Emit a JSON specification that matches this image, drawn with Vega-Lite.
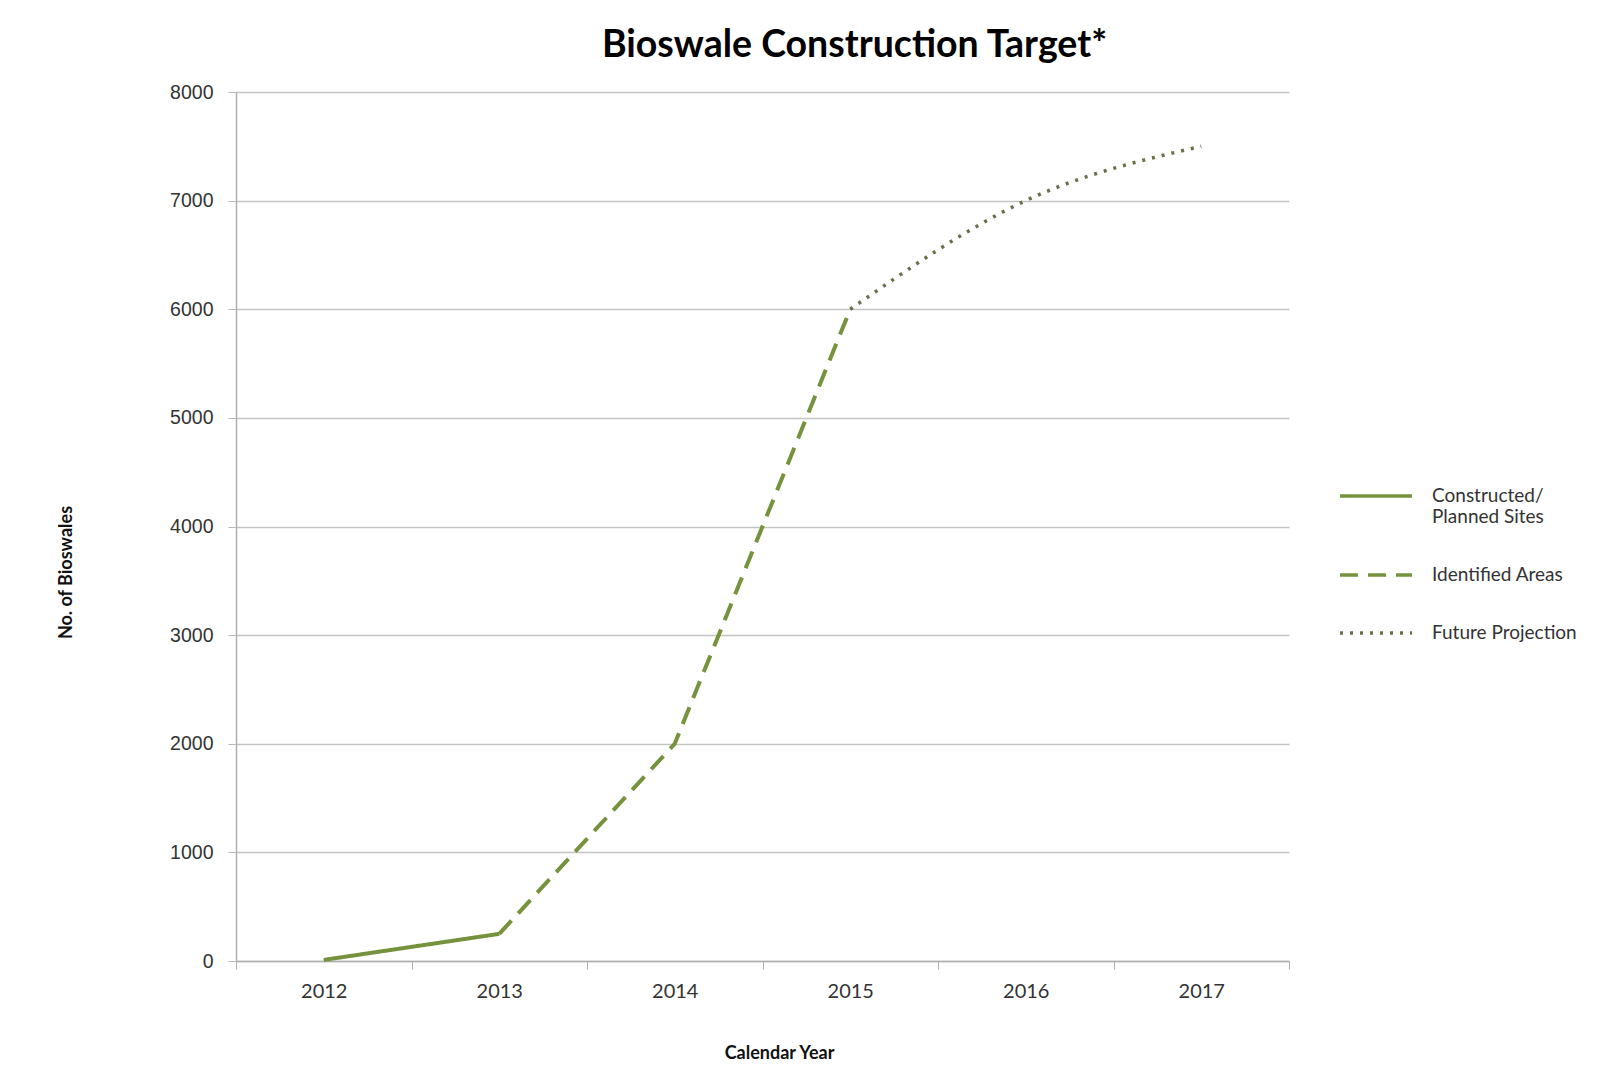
{
  "$schema": "https://vega.github.io/schema/vega-lite/v6.json",
  "width": 1053,
  "height": 869,
  "autosize": {"type": "none"},
  "padding": {"left": 236, "top": 92, "right": 319, "bottom": 115},
  "background": "#ffffff",
  "title": {
    "text": "Bioswale Construction Target*",
    "anchor": "middle",
    "frame": "group",
    "dx": 92,
    "dy": 32,
    "baseline": "alphabetic",
    "offset": 20,
    "font": "Lato",
    "fontSize": 37.5,
    "fontWeight": "bold",
    "color": "#000000"
  },
  "data": {
    "values": [
      {"year": "2012", "value": 10, "series": "Constructed/ Planned Sites"},
      {"year": "2013", "value": 250, "series": "Constructed/ Planned Sites"},
      {"year": "2013", "value": 250, "series": "Identified Areas"},
      {"year": "2014", "value": 2000, "series": "Identified Areas"},
      {"year": "2015", "value": 6000, "series": "Identified Areas"},
      {"year": "2015", "value": 6000, "series": "Future Projection"},
      {"year": "2016", "value": 7000, "series": "Future Projection"},
      {"year": "2017", "value": 7500, "series": "Future Projection"}
    ]
  },
  "encoding": {
    "x": {
      "field": "year",
      "type": "ordinal",
      "bandPosition": 0.5,
      "scale": {"type": "band", "paddingInner": 0, "paddingOuter": 0, "domain": ["2012", "2013", "2014", "2015", "2016", "2017"]},
      "axis": {
        "title": "Calendar Year",
        "titleFont": "Lato",
        "titleFontSize": 18,
        "titleFontWeight": "bold",
        "titleColor": "#111111",
        "titleX": 543,
        "titleY": 92,
        "titleBaseline": "middle",
        "titleAlign": "center",
        "labelAngle": 0,
        "labelFont": "Lato",
        "labelFontSize": 20,
        "labelColor": "#333333",
        "labelPadding": 12,
        "tickBand": "extent",
        "ticks": true,
        "tickSize": 8,
        "tickColor": "#b0b0b0",
        "domainColor": "#b0b0b0",
        "domainWidth": 1.5,
        "grid": false
      }
    },
    "y": {
      "field": "value",
      "type": "quantitative",
      "scale": {"domain": [0, 8000], "nice": false, "zero": true},
      "axis": {
        "title": "No. of Bioswales",
        "titleFont": "Lato",
        "titleFontSize": 18,
        "titleFontWeight": "bold",
        "titleColor": "#111111",
        "titleX": -170,
        "titleY": 480,
        "titleAngle": -90,
        "titleBaseline": "middle",
        "titleAlign": "center",
        "values": [0, 1000, 2000, 3000, 4000, 5000, 6000, 7000, 8000],
        "format": "d",
        "labelFont": "Liberation Sans",
        "labelFontSize": 19.5,
        "labelColor": "#333333",
        "labelPadding": 15,
        "ticks": true,
        "tickSize": 8,
        "tickColor": "#b8b8b8",
        "domainColor": "#b0b0b0",
        "domainWidth": 1.5,
        "grid": true,
        "gridColor": "#c4c4c4",
        "gridWidth": 1.5
      }
    },
    "color": {
      "field": "series",
      "type": "nominal",
      "scale": {
        "domain": ["Constructed/ Planned Sites", "Identified Areas", "Future Projection"],
        "range": ["#76923c", "#76923c", "#66714a"]
      },
      "legend": {
        "orient": "none",
        "legendX": 1102,
        "legendY": 366,
        "title": null,
        "symbolType": "stroke",
        "symbolSize": 5184,
        "symbolStrokeWidth": 3.5,
        "labelFont": "Lato",
        "labelFontSize": 19,
        "labelColor": "#333333",
        "labelOffset": 18,
        "labelLimit": 300,
        "rowPadding": 10,
        "padding": 0,
        "labelExpr": "datum.label == 'Constructed/ Planned Sites' ? ['Constructed/', 'Planned Sites'] : datum.label"
      }
    },
    "strokeDash": {
      "field": "series",
      "type": "nominal",
      "scale": {
        "domain": ["Constructed/ Planned Sites", "Identified Areas", "Future Projection"],
        "range": [[1, 0], [18, 10], [3, 7]]
      },
      "legend": {
        "orient": "none",
        "legendX": 1102,
        "legendY": 366,
        "title": null,
        "symbolType": "stroke",
        "symbolSize": 5184,
        "symbolStrokeWidth": 3.5,
        "labelFont": "Lato",
        "labelFontSize": 19,
        "labelColor": "#333333",
        "labelOffset": 18,
        "labelLimit": 300,
        "rowPadding": 10,
        "padding": 0,
        "labelExpr": "datum.label == 'Constructed/ Planned Sites' ? ['Constructed/', 'Planned Sites'] : datum.label"
      }
    }
  },
  "layer": [
    {
      "transform": [{"filter": "datum.series != 'Future Projection'"}],
      "mark": {"type": "line", "strokeWidth": 4, "interpolate": "linear"}
    },
    {
      "transform": [{"filter": "datum.series == 'Future Projection'"}],
      "mark": {"type": "line", "strokeWidth": 3.5, "interpolate": "monotone"}
    }
  ],
  "config": {
    "view": {"stroke": null}
  }
}
